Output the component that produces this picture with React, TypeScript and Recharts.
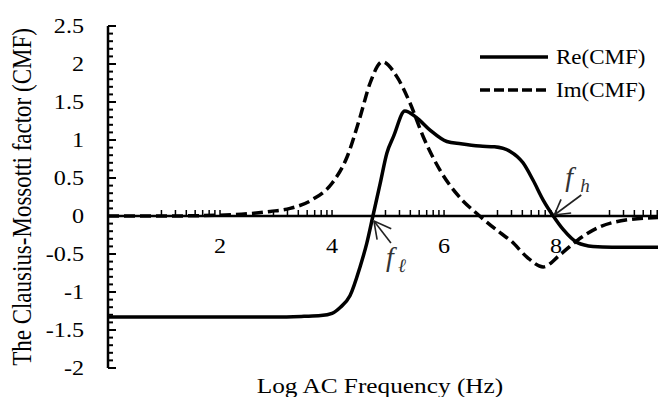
import { LineChart, Line, XAxis, YAxis, ReferenceLine } from 'recharts';

// Re(CMF)
const reFreq = [0, 1, 2, 3, 3.5, 3.8, 4.0, 4.15, 4.32, 4.5, 4.62, 4.73, 4.86, 4.98, 5.1, 5.3, 5.5, 5.75, 6.05, 6.3, 6.64, 6.9, 7.18, 7.41, 7.59, 7.77, 7.95, 8.13, 8.38, 8.66, 9.0, 9.82];
const reCmf = [-1.33, -1.33, -1.33, -1.33, -1.32, -1.31, -1.28, -1.2, -1.05, -0.67, -0.36, 0, 0.43, 0.83, 1.05, 1.38, 1.3, 1.13, 0.98, 0.95, 0.92, 0.91, 0.85, 0.7, 0.47, 0.21, 0, -0.18, -0.35, -0.4, -0.41, -0.41];

// Im(CMF)
const imFreq = [0, 1, 2, 2.5, 2.9, 3.25, 3.66, 4.0, 4.27, 4.5, 4.68, 4.9, 5.16, 5.39, 5.63, 5.93, 6.25, 6.62, 7.0, 7.2, 7.48, 7.77, 8.07, 8.38, 8.79, 9.27, 9.82];
const imCmf = [0, 0, 0.01, 0.03, 0.06, 0.1, 0.22, 0.43, 0.78, 1.3, 1.75, 2.03, 1.83, 1.49, 1.04, 0.6, 0.27, 0.01, -0.22, -0.33, -0.54, -0.67, -0.51, -0.32, -0.14, -0.05, -0.02];

const xLabelTicks = [2, 4, 6, 8];
const yLabelTicks = [-2, -1.5, -1, -0.5, 0, 0.5, 1, 1.5, 2, 2.5];

const F_LOW = 4.73;
const F_HIGH = 7.95;

const FONT = '"Liberation Serif", "Times New Roman", serif';
const W = 658;
const H = 397;
const TOP = 26;
const LEFT = 108;
const X_AXIS_H = 29;
const X_MAX = 9.82;
const Y_MIN = -2;
const Y_MAX = 2.5;
const STRETCH = 1.15;
const PLOT_H = H - X_AXIS_H - TOP;

const sx = (v: number) => LEFT + (v / X_MAX) * (W - LEFT);
const sy = (v: number) => TOP + ((Y_MAX - v) / (Y_MAX - Y_MIN)) * PLOT_H;
const ZERO_Y = sy(0);

const rePoints = reFreq.map((x, i) => ({ x, y: reCmf[i] }));
const imPoints = imFreq.map((x, i) => ({ x, y: imCmf[i] }));

// log-style minor ticks inside every 2-unit step, as in the original axis
const xTicks: number[] = [];
for (let base = 0; base < X_MAX; base += 2) {
    for (let k = 3; k <= 10; k++) {
        const v = +(base + 2 * Math.log10(k)).toFixed(4);
        if (v <= X_MAX) xTicks.push(v);
    }
}
const yTicks: number[] = [];
for (let i = Y_MIN * 10; i <= Y_MAX * 10; i++) yTicks.push(i / 10);

const isOn = (list: number[], v: number) => list.some(m => Math.abs(m - v) < 1e-6);

function XTick({ x, payload }: any) {
    const v = payload.value;
    return (
        <g>
            <line x1={x} x2={x} y1={ZERO_Y} y2={ZERO_Y - 6} stroke="#000" strokeWidth={1.5} />
            {isOn(xLabelTicks, v) ? (
                <text transform={`translate(${x},${ZERO_Y + 30}) scale(${STRETCH},1)`} textAnchor="middle" dy="0.35em"
                    fontSize={21} fontFamily={FONT} fill="#000">{Math.round(v)}</text>
            ) : null}
        </g>
    );
}

function YTick({ y, payload }: any) {
    const v = payload.value;
    const major = isOn(yLabelTicks, v);
    return (
        <g>
            <line x1={LEFT} x2={LEFT + (major ? 8 : 5)} y1={y} y2={y} stroke="#000" strokeWidth={2} />
            {major ? (
                <text transform={`translate(84,${y}) scale(${STRETCH},1)`} textAnchor="end" dy="0.35em"
                    fontSize={21} fontFamily={FONT} fill="#000">{String(v)}</text>
            ) : null}
        </g>
    );
}

function Arrow({ tx, ty, dx, dy, head, spread }: { tx: number; ty: number; dx: number; dy: number; head: number; spread: number }) {
    const a = Math.atan2(dy, dx);
    const r = (spread * Math.PI) / 180;
    return (
        <g stroke="#222" strokeWidth={1.6} fill="none">
            <line x1={tx} y1={ty} x2={tx + dx} y2={ty + dy} />
            <line x1={tx} y1={ty} x2={tx + head * Math.cos(a + r)} y2={ty + head * Math.sin(a + r)} />
            <line x1={tx} y1={ty} x2={tx + head * Math.cos(a - r)} y2={ty + head * Math.sin(a - r)} />
        </g>
    );
}

export default function App() {
    const lowX = sx(F_LOW);
    const highX = sx(F_HIGH);
    return (
        <div style={{ position: 'absolute', left: 0, top: 0, width: W, height: H, background: '#fff' }}>
            <LineChart width={W} height={H} margin={{ top: TOP, right: 0, bottom: 0, left: 0 }}>
                <XAxis dataKey="x" type="number" domain={[0, X_MAX]} ticks={xTicks} interval={0} allowDataOverflow
                    axisLine={false} tickLine={false} tick={<XTick />} height={X_AXIS_H} />
                <YAxis type="number" domain={[Y_MIN, Y_MAX]} ticks={yTicks} interval={0} width={LEFT}
                    axisLine={{ stroke: '#000', strokeWidth: 2.5 }} tickLine={false} tick={<YTick />} />
                <ReferenceLine y={0} stroke="#000" strokeWidth={2.5} />
                <Line data={imPoints} dataKey="y" type="monotone" stroke="#000" strokeWidth={3.5}
                    strokeDasharray="11 5" dot={false} activeDot={false} isAnimationActive={false} name="Im(CMF)" />
                <Line data={rePoints} dataKey="y" type="monotone" stroke="#000" strokeWidth={3.5}
                    dot={false} activeDot={false} isAnimationActive={false} name="Re(CMF)" />
            </LineChart>
            <svg width={W} height={H} style={{ position: 'absolute', left: 0, top: 0, pointerEvents: 'none' }}>
                <text transform={`translate(22,${TOP + PLOT_H / 2}) scale(${STRETCH},1) rotate(-90)`} textAnchor="middle"
                    dy="0.35em" fontSize={23} fontFamily={FONT}>The Clausius-Mossotti factor (CMF)</text>
                <text transform={`translate(${(LEFT + W) / 2 - 3},385) scale(${STRETCH},1)`} textAnchor="middle"
                    dy="0.35em" fontSize={22} fontFamily={FONT}>Log AC Frequency (Hz)</text>

                <g transform="translate(480,40)">
                    <line x1={0} x2={68} y1={17} y2={17} stroke="#000" strokeWidth={3.5} />
                    <line x1={0} x2={68} y1={50} y2={50} stroke="#000" strokeWidth={3.5} strokeDasharray="10 4" />
                    <text transform={`translate(76,17) scale(${STRETCH},1)`} dy="0.35em" fontSize={20} fontFamily={FONT}>Re(CMF)</text>
                    <text transform={`translate(76,50) scale(${STRETCH},1)`} dy="0.35em" fontSize={20} fontFamily={FONT}>Im(CMF)</text>
                </g>

                <Arrow tx={lowX + 1} ty={ZERO_Y + 5} dx={17} dy={22} head={19} spread={28} />
                <text x={lowX + 13} y={ZERO_Y + 50} fontSize={28} fontStyle="italic" fontFamily={FONT} fill="#333">f</text>
                <text x={lowX + 25} y={ZERO_Y + 56} fontSize={19} fontStyle="italic" fontFamily={FONT} fill="#333">ℓ</text>

                <Arrow tx={highX + 1} ty={ZERO_Y - 1} dx={27} dy={-20} head={17} spread={30} />
                <text x={highX + 12} y={ZERO_Y - 30} fontSize={28} fontStyle="italic" fontFamily={FONT} fill="#333">f</text>
                <text x={highX + 27} y={ZERO_Y - 24} fontSize={19} fontStyle="italic" fontFamily={FONT} fill="#333">h</text>
            </svg>
        </div>
    );
}
